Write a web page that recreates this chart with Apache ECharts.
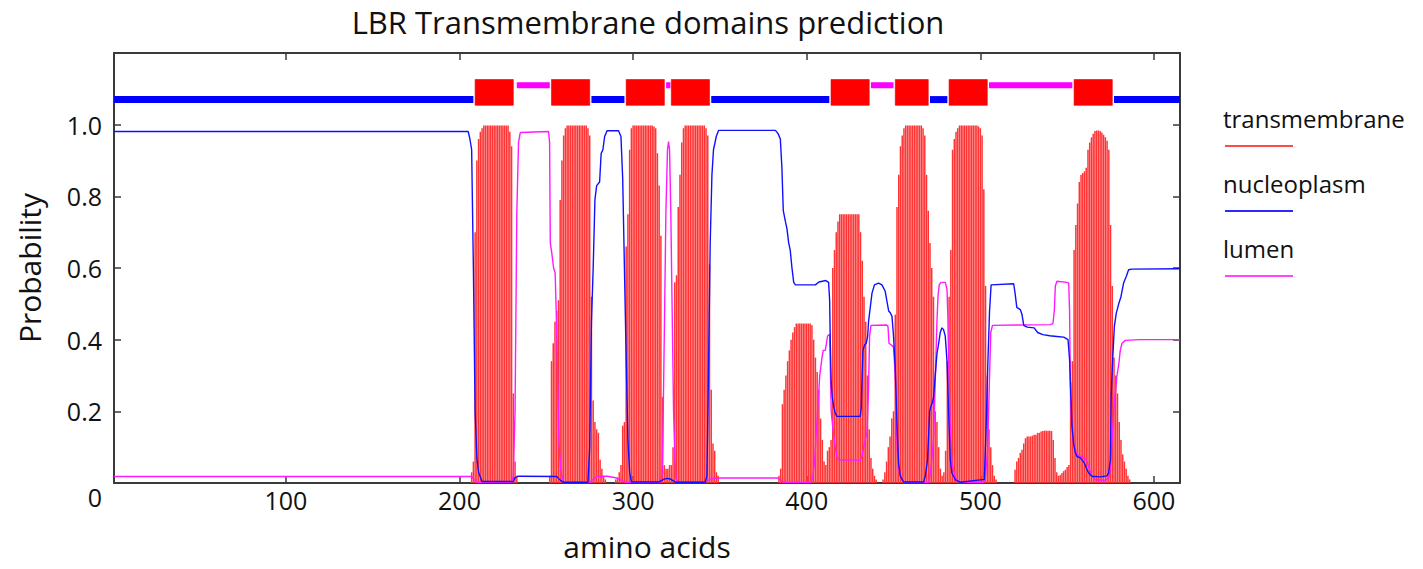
<!DOCTYPE html>
<html>
<head>
<meta charset="utf-8">
<script src="https://cdn.jsdelivr.net/npm/echarts@6/dist/echarts.min.js"></script>
<style>html,body{margin:0;padding:0;background:#fff;}#chart{width:1423px;height:569px;}</style>
</head>
<body>
<div id="chart"></div>
<script>
// ---------- DATA ----------
const chartTitle = 'LBR Transmembrane domains prediction';
const xTicks = [100, 200, 300, 400, 500, 600];
const seriesNames = ['transmembrane', 'nucleoplasm', 'lumen'];

// transmembrane probability per residue [residue, probability] (residues not listed are 0)
const transmembrane = [
 [207,.03],[208,.06],[209,.70],[210,.90],[211,.96],[212,.98],[213,.99],[214,.998],[215,.998],[216,.998],[217,.998],[218,.998],[219,.998],[220,.998],[221,.998],[222,.998],[223,.998],[224,.998],[225,.998],[226,.998],[227,.998],[228,.998],[229,.98],[230,.94],[231,.25],[232,.06],[233,.02],
 [252,.02],[253,.34],[254,.39],[255,.45],[256,.48],[257,.51],[258,.79],[259,.90],[260,.97],[261,.99],[262,.998],[263,.998],[264,.998],[265,.998],[266,.998],[267,.998],[268,.998],[269,.998],[270,.998],[271,.998],[272,.998],[273,.998],[274,.99],[275,.97],[276,.52],[277,.23],[278,.17],[279,.15],[280,.14],[281,.065],[282,.04],[283,.02],[284,.01],
 [290,.01],[291,.015],[292,.03],[293,.05],[294,.16],[295,.17],[296,.66],[297,.75],[298,.93],[299,.99],[300,.998],[301,.998],[302,.998],[303,.998],[304,.998],[305,.998],[306,.998],[307,.998],[308,.998],[309,.998],[310,.998],[311,.998],[312,.995],[313,.99],[314,.92],[315,.83],[316,.69],[317,.24],[318,.05],[319,.04],[320,.04],[321,.05],[322,.05],
 [323,.10],[324,.56],[325,.58],[326,.77],[327,.86],[328,.95],[329,.99],[330,.998],[331,.998],[332,.998],[333,.998],[334,.998],[335,.998],[336,.998],[337,.998],[338,.998],[339,.998],[340,.998],[341,.998],[342,.99],[343,.97],[344,.61],[345,.26],[346,.11],[347,.09],[348,.03],[349,.02],
 [384,.02],[385,.04],[386,.22],[387,.26],[388,.30],[389,.34],[390,.37],[391,.40],[392,.42],[393,.435],[394,.445],[395,.445],[396,.445],[397,.445],[398,.445],[399,.445],[400,.445],[401,.445],[402,.445],[403,.44],[404,.40],[405,.35],[406,.31],[407,.26],[408,.18],[409,.12],[410,.06],[411,.05],[412,.09],[413,.10],[414,.12],
 [415,.60],[416,.65],[417,.70],[418,.73],[419,.75],[420,.75],[421,.75],[422,.75],[423,.75],[424,.75],[425,.75],[426,.75],[427,.75],[428,.75],[429,.75],[430,.75],[431,.70],[432,.62],[433,.52],[434,.45],[435,.30],[436,.15],[437,.07],[438,.04],[439,.02],[440,.01],
 [444,.01],[445,.03],[446,.06],[447,.10],[448,.13],[449,.18],[450,.20],[451,.47],[452,.77],[453,.86],[454,.94],[455,.97],[456,.99],[457,.998],[458,.998],[459,.998],[460,.998],[461,.998],[462,.998],[463,.998],[464,.998],[465,.998],[466,.998],[467,.99],[468,.97],[469,.86],[470,.76],[471,.67],[472,.60],[473,.52],[474,.20],[475,.17],[476,.10],[477,.04],
 [478,.02],[479,.03],[480,.09],[481,.34],[482,.52],[483,.65],[484,.93],[485,.96],[486,.98],[487,.99],[488,.998],[489,.998],[490,.998],[491,.998],[492,.998],[493,.998],[494,.998],[495,.998],[496,.998],[497,.998],[498,.998],[499,.995],[500,.99],[501,.97],[502,.82],[503,.55],[504,.30],[505,.15],[506,.10],[507,.05],[508,.02],[509,.01],
 [520,.037],[521,.06],[522,.07],[523,.084],[524,.093],[525,.11],[526,.125],[527,.13],[528,.13],[529,.13],[530,.132],[531,.135],[532,.135],[533,.14],[534,.14],[535,.144],[536,.145],[537,.146],[538,.146],[539,.146],[540,.146],[541,.145],[542,.12],[543,.07],[544,.03],[545,.02],[546,.022],[547,.028],[548,.033],[549,.037],[550,.045],[551,.05],
 [552,.28],[553,.34],[554,.65],[555,.72],[556,.78],[557,.84],[558,.86],[559,.865],[560,.87],[561,.88],[562,.93],[563,.95],[564,.965],[565,.975],[566,.982],[567,.984],[568,.984],[569,.982],[570,.978],[571,.972],[572,.965],[573,.955],[574,.93],[575,.72],[576,.55],[577,.35],[578,.30],[579,.25],[580,.17],[581,.12],[582,.08],[583,.06],[584,.04],[585,.02],[586,.01]
];

// nucleoplasm (inside) probability [residue, probability]
const nucleoplasm = [
 [1,.981],[205,.981],[206,.96],[207,.93],[208,.6],[209,.2],[210,.07],[211,.03],[213,.004],[231,.004],[232,.015],[234,.019],[256,.018],[258,.008],[260,.002],[274,.002],[275,.1],[276,.45],[277,.6],[278,.79],[279,.83],[280.7,.84],[281.6,.92],[282.6,.93],[283.6,.967],[285,.983],[291.6,.983],[293,.967],[294,.85],[295,.6],[296,.35],[297,.12],[298,.03],[299,.003],[315,.003],[317.5,.01],[319.5,.013],[321.5,.011],[323.5,.005],[324.5,.002],[341.5,.002],[342.5,.02],[343.4,.3],[344.4,.67],[345.4,.86],[346.3,.93],[347.9,.967],[349.2,.984],[382,.984],[383.5,.975],[384.8,.96],[385.7,.88],[386.5,.76],[387.7,.73],[388.6,.71],[389.6,.67],[390.5,.65],[391.5,.6],[392.5,.56],[393.5,.553],[405,.553],[407,.561],[411,.565],[412.6,.56],[413.2,.51],[413.6,.39],[414.1,.28],[414.7,.24],[415.5,.214],[416.4,.195],[417.4,.186],[430.8,.186],[431.4,.21],[431.8,.28],[432.4,.37],[433.3,.385],[434.3,.39],[435.1,.41],[435.6,.45],[436.6,.49],[437.6,.53],[439,.553],[441.4,.558],[443.3,.553],[445.2,.535],[447.2,.48],[448.1,.475],[449.1,.465],[450,.41],[451,.32],[452,.16],[452.9,.056],[453.9,.019],[455.8,.003],[467.3,.003],[468.3,.019],[469.6,.065],[470.8,.2],[471.5,.214],[472.3,.223],[473.1,.24],[474,.3],[475,.36],[476,.39],[476.9,.42],[477.9,.433],[478.8,.428],[479.8,.41],[480.8,.34],[481.7,.2],[482.7,.065],[483.6,.028],[485.6,.009],[488.5,.002],[502.3,.01],[503.3,.15],[504.3,.33],[505.3,.48],[506.2,.553],[519.2,.556],[520,.53],[521,.49],[523,.484],[524,.47],[525,.44],[527,.435],[531,.433],[533,.42],[536,.414],[540,.411],[544,.409],[548,.407],[550.5,.4],[551.4,.344],[552,.26],[552.8,.16],[553.7,.11],[554.7,.084],[555.7,.074],[557.6,.07],[559.9,.056],[561,.042],[562.4,.028],[564.3,.019],[569,.017],[572.9,.02],[573.9,.028],[574.9,.065],[575.4,.25],[576.2,.344],[577.2,.437],[578.3,.474],[579.7,.5],[581,.52],[582.5,.558],[584.1,.577],[585.4,.595],[587.3,.597],[615,.598]
];

// lumen (outside) probability [residue, probability]
const lumen = [
 [1,.018],[207,.018],[208,.012],[210,.002],[230,.002],[231,.02],[232,.2],[233,.75],[234,.95],[235,.978],[251.3,.981],[251.9,.95],[252.3,.67],[253.2,.64],[254.2,.6],[255.1,.586],[255.7,.48],[256.5,.3],[257.3,.11],[258.4,.035],[259.9,.002],[275.3,.002],[277.2,.011],[279.1,.019],[285,.019],[290.7,.014],[294.5,.004],[296,.002],[315.6,.002],[316.6,.019],[317.1,.11],[317.9,.39],[318.9,.76],[319.8,.93],[320.4,.953],[321,.93],[321.7,.76],[322.5,.48],[323.3,.2],[324.1,.065],[324.8,.009],[326.2,.002],[342.5,.004],[344.4,.011],[348.2,.014],[382.9,.014],[384.8,.009],[386.7,.002],[402.5,.002],[403.5,.019],[404.5,.056],[405.5,.14],[406.5,.22],[407.5,.3],[408.8,.35],[409.5,.37],[410.7,.37],[412,.41],[413.2,.415],[414.1,.2],[415.1,.15],[416.4,.1],[417.4,.074],[418.4,.065],[430.8,.063],[431.8,.074],[432.8,.1],[433.7,.12],[434.7,.14],[435.6,.26],[436.2,.41],[437,.44],[446,.441],[446.8,.437],[447.4,.39],[450,.38],[451,.3],[452,.11],[452.9,.037],[454.8,.009],[456,.002],[470.2,.002],[471.2,.028],[472.1,.065],[473.1,.13],[474,.28],[475,.45],[475.6,.52],[476.3,.553],[477.3,.56],[479.8,.56],[480.8,.54],[481.3,.465],[481.9,.3],[482.7,.16],[483.6,.056],[485.6,.014],[488,.002],[502,.002],[503,.02],[504.2,.093],[505.2,.28],[506,.42],[507,.44],[540.3,.442],[541.8,.445],[542.6,.48],[543.2,.55],[544.1,.563],[549.9,.56],[550.9,.558],[551.4,.48],[551.8,.3],[552.2,.2],[552.8,.15],[553.7,.11],[555.3,.084],[556.6,.076],[558.5,.074],[559.9,.068],[561,.065],[561.8,.056],[563,.037],[564.3,.019],[566.2,.009],[572,.007],[573.9,.014],[574.9,.037],[575.8,.11],[576.8,.2],[577.7,.25],[578.7,.3],[579.7,.33],[580.6,.37],[581.6,.39],[583.5,.398],[592,.4],[615,.4]
];

// predicted topology (residue ranges)
const tmHelices = [[209,231],[253,275],[296,318],[322,344],[414,436],[451,470],[482,504],[554,576]];
const nucleoplasmSegments = [[1,208],[276,295],[345,413],[471,481],[577,615]];
const lumenSegments = [[233,252],[319,321.5],[437,450],[505,553]];

// ---------- STYLE ----------
const FONT = 'Open Sans';
const RED = '#ff3535', BLUE = '#1010ff', MAGENTA = '#ff1aff';
const AXIS_COLOR = '#3a3a3a';
const helixBand = [1.054, 1.126];
const nucleoLevel = 1.070, lumenLevel = 1.110;

function bandRenderer(kind) {
  return function (params, api) {
    const s = api.value(0), e = api.value(1);
    if (kind === 'helix') {
      const p1 = api.coord([s, helixBand[1]]);
      const p2 = api.coord([e, helixBand[0]]);
      return {type: 'rect', shape: {x: p1[0], y: p1[1], width: p2[0] - p1[0], height: p2[1] - p1[1]},
              style: {fill: '#ff0000', stroke: '#e00000', lineWidth: 0.6}};
    }
    const lvl = kind === 'nucleo' ? nucleoLevel : lumenLevel;
    const th = kind === 'nucleo' ? 7 : 6;
    const p1 = api.coord([s, lvl]);
    const p2 = api.coord([e, lvl]);
    return {type: 'rect', shape: {x: p1[0], y: p1[1] - th / 2, width: p2[0] - p1[0], height: th},
            style: {fill: kind === 'nucleo' ? '#0000ff' : '#ff00ff'}};
  };
}

const chart = echarts.init(document.getElementById('chart'), null, {renderer: 'svg'});

const xCommon = {
  type: 'value', min: 1, max: 615,
  axisLine: {show: true, onZero: false, lineStyle: {color: AXIS_COLOR, width: 2}},
  axisTick: {show: true, inside: true, length: 7, customValues: xTicks, lineStyle: {color: AXIS_COLOR, width: 1.5}},
  splitLine: {show: false}
};
const yCommon = {
  type: 'value', min: 0, max: 1.2, interval: 0.2,
  axisLine: {show: true, onZero: false, lineStyle: {color: AXIS_COLOR, width: 2}},
  axisTick: {show: true, inside: true, length: 7, lineStyle: {color: AXIS_COLOR, width: 1.5}},
  splitLine: {show: false}
};

const legendY = [118, 183, 248];
const legendColors = ['#ff4a4a', '#2a2aff', '#ff44ff'];
const legendGraphics = [];
seriesNames.forEach(function (n, i) {
  legendGraphics.push({type: 'text', x: 1223, y: legendY[i],
    style: {text: n, font: '24px "' + FONT + '"', fill: '#111', verticalAlign: 'middle', align: 'left'}});
  legendGraphics.push({type: 'line', shape: {x1: 1225, y1: legendY[i] + 28, x2: 1293, y2: legendY[i] + 28},
    style: {stroke: legendColors[i], lineWidth: 2}});
});

chart.setOption({
  animation: false,
  backgroundColor: '#ffffff',
  grid: {left: 114, right: 243, top: 53, bottom: 86, containLabel: false},
  xAxis: [
    Object.assign({}, xCommon, {
      position: 'bottom',
      name: 'amino acids', nameLocation: 'middle', nameGap: 48,
      nameTextStyle: {fontFamily: FONT, fontSize: 30, color: '#111'},
      axisLabel: {show: true, customValues: xTicks, margin: 4, fontFamily: FONT, fontSize: 25, color: '#111'}
    }),
    Object.assign({}, xCommon, {position: 'top', axisLabel: {show: false}})
  ],
  yAxis: [
    Object.assign({}, yCommon, {
      position: 'left',
      name: 'Probability', nameLocation: 'middle', nameGap: 70,
      nameTextStyle: {fontFamily: FONT, fontSize: 30, color: '#111'},
      axisLabel: {show: true, margin: 12, fontFamily: FONT, fontSize: 25, color: '#111',
        formatter: function (v) { return (v === 0 || v > 1.1) ? '' : v.toFixed(1); }}
    }),
    Object.assign({}, yCommon, {position: 'right', axisLabel: {show: false}})
  ],
  graphic: [
    {type: 'text', x: 648, y: 22, style: {text: chartTitle, font: '31px "' + FONT + '"', fill: '#111', align: 'center', verticalAlign: 'middle'}},
    {type: 'text', x: 95, y: 497, style: {text: '0', font: '25px "' + FONT + '"', fill: '#111', align: 'center', verticalAlign: 'middle'}}
  ].concat(legendGraphics),
  series: [
    {name: 'transmembrane', type: 'bar', xAxisIndex: 0, yAxisIndex: 0, data: transmembrane,
     barWidth: 1.5, itemStyle: {color: RED}, z: 1, large: false},
    {name: 'nucleoplasm', type: 'line', data: nucleoplasm, showSymbol: false, z: 4,
     lineStyle: {color: BLUE, width: 1.4}},
    {name: 'lumen', type: 'line', data: lumen, showSymbol: false, z: 3,
     lineStyle: {color: MAGENTA, width: 1.4}},
    {type: 'custom', data: nucleoplasmSegments, renderItem: bandRenderer('nucleo'), encode: {x: [0, 1]}, z: 5, silent: true},
    {type: 'custom', data: lumenSegments, renderItem: bandRenderer('lumen'), encode: {x: [0, 1]}, z: 5, silent: true},
    {type: 'custom', data: tmHelices, renderItem: bandRenderer('helix'), encode: {x: [0, 1]}, z: 6, silent: true}
  ]
});
</script>
</body>
</html>
